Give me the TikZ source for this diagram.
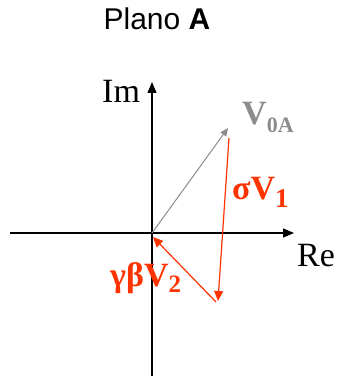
\documentclass[tikz,border=0pt]{standalone}
\usepackage{fontspec}
\setmainfont{Liberation Serif}
\newfontfamily\arialfont{Liberation Sans}
\usetikzlibrary{arrows.meta}
\definecolor{vred}{RGB}{255,51,0}
\definecolor{vgray}{RGB}{140,140,140}
\begin{document}
\begin{tikzpicture}[x=1pt,y=1pt,
 axis/.style={line width=1.3pt,-{Triangle[length=11pt,width=9pt]}},
 grayvec/.style={vgray,line width=1pt,-{Triangle[length=8pt,width=7pt]}},
 redvec/.style={vred,line width=1.2pt,-{Triangle[length=10pt,width=9pt]}},
 lbl/.style={inner sep=0pt,anchor=base west,font=\fontsize{34}{34}\selectfont}]
\useasboundingbox (0,0) rectangle (337,381);
\coordinate (O) at (152,148);
\coordinate (xl) at (10,148);
\coordinate (xr) at (294,148);
\coordinate (yb) at (152,5);
\coordinate (yt) at (152,299);
\coordinate (v0) at (228,253);
\coordinate (s1) at (229,243);
\coordinate (s2) at (218,80);
\coordinate (g1) at (216,79);
\coordinate (g2) at (153,144);
\draw[axis] (xl) -- (xr);
\draw[axis] (yb) -- (yt);
\draw[grayvec] (O) -- (v0);
\draw[redvec] (s1) -- (s2);
\draw[redvec] (g1) -- (g2);
\node[inner sep=0pt,anchor=base,font=\arialfont\fontsize{30}{30}\selectfont] (title) at (157,351) {Plano \textbf{A}};
\node[lbl] (im) at (102,278) {Im};
\node[lbl] (re) at (297,114) {Re};
\node[lbl,text=vgray] (lv0) at (242,256) {\textbf{V\raisebox{-8pt}{\fontsize{22}{22}\selectfont 0A}}};
\node[lbl,text=vred] (lsv) at (232,181) {\textbf{σV\raisebox{-8pt}{\fontsize{27}{27}\selectfont 1}}};
\node[lbl,text=vred] (lgb) at (110,94) {\textbf{γβV\raisebox{-6pt}{\fontsize{25}{25}\selectfont 2}}};
\end{tikzpicture}
\end{document}
